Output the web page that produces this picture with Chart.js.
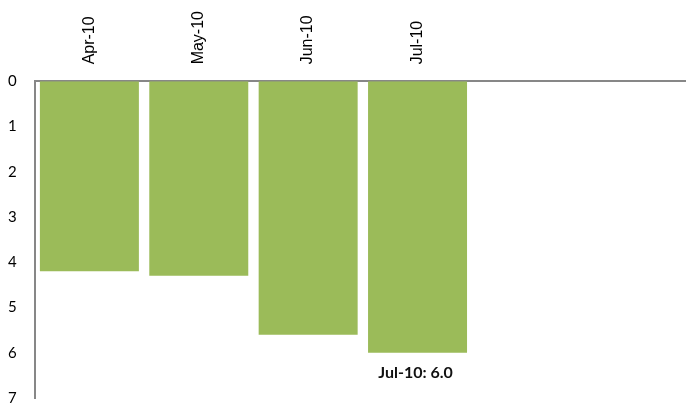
<!DOCTYPE html>
<html>
<head>
<meta charset="utf-8">
<script src="https://cdn.jsdelivr.net/npm/chart.js@4/dist/chart.umd.min.js"></script>
<style>
  html, body { margin: 0; padding: 0; background: #fff; overflow: hidden; }
  #wrap { width: 692px; height: 425px; }
</style>
</head>
<body>
<div id="wrap"><canvas id="chart"></canvas></div>
<script>
// months along the top, values hang down from zero
const months = ["Apr-10", "May-10", "Jun-10", "Jul-10", "", ""];
const values = [4.2, 4.3, 5.6, 6.0, null, null];
const yTicks = [0, 1, 2, 3, 4, 5, 6, 7];

const BAR_GREEN = "#9bbb59";
const AXIS_GREY = "#878787";

// caption under the last filled bar: "Jul-10: 6.0"
const lastLabel = {
  id: "lastLabel",
  afterDatasetsDraw(chart) {
    const ds = chart.data.datasets[0].data;
    let idx = -1;
    ds.forEach((v, i) => { if (v != null) idx = i; });
    if (idx < 0) return;
    const x = chart.scales.x.getPixelForValue(idx);
    const y = chart.scales.y.getPixelForValue(ds[idx]);
    const ctx = chart.ctx;
    ctx.save();
    ctx.font = "bold 16px Lato, 'Liberation Sans', sans-serif";
    ctx.fillStyle = "#111";
    ctx.textAlign = "center";
    ctx.textBaseline = "middle";
    ctx.fillText(`${months[idx]}: ${ds[idx].toFixed(1)}`, x - 2, y + 20);
    ctx.restore();
  }
};

new Chart(document.getElementById("chart").getContext("2d"), {
  type: "bar",
  data: {
    labels: months,
    datasets: [{
      data: values,
      backgroundColor: BAR_GREEN,
      borderWidth: 0,
      categoryPercentage: 1,
      barPercentage: 0.905,
    }],
  },
  options: {
    responsive: true,
    maintainAspectRatio: false,
    animation: false,
    layout: { padding: { left: -10, top: -6, right: 1, bottom: 0 } },
    plugins: { legend: { display: false }, tooltip: { enabled: false } },
    scales: {
      x: {
        position: "top",
        grid: { display: false, drawTicks: false },
        border: { display: true, color: AXIS_GREY, width: 2 },
        ticks: {
          minRotation: 90, maxRotation: 90, padding: 17,
          labelOffset: 19,   // rotated labels sit left of the tick otherwise
          color: "#000",
          font: { family: "'Liberation Sans', Arial, sans-serif", size: 16 },
        },
      },
      y: {
        reverse: true,
        min: 0, max: 7,
        afterBuildTicks: (axis) => { axis.ticks = yTicks.map(v => ({ value: v })); },
        grid: { display: false, drawTicks: false },
        border: { display: true, color: AXIS_GREY, width: 2 },
        ticks: {
          padding: 18,
          color: "#000",
          font: { family: "Lato, 'Liberation Sans', sans-serif", size: 15 },
        },
      },
    },
  },
  plugins: [lastLabel],
});
</script>
</body>
</html>
